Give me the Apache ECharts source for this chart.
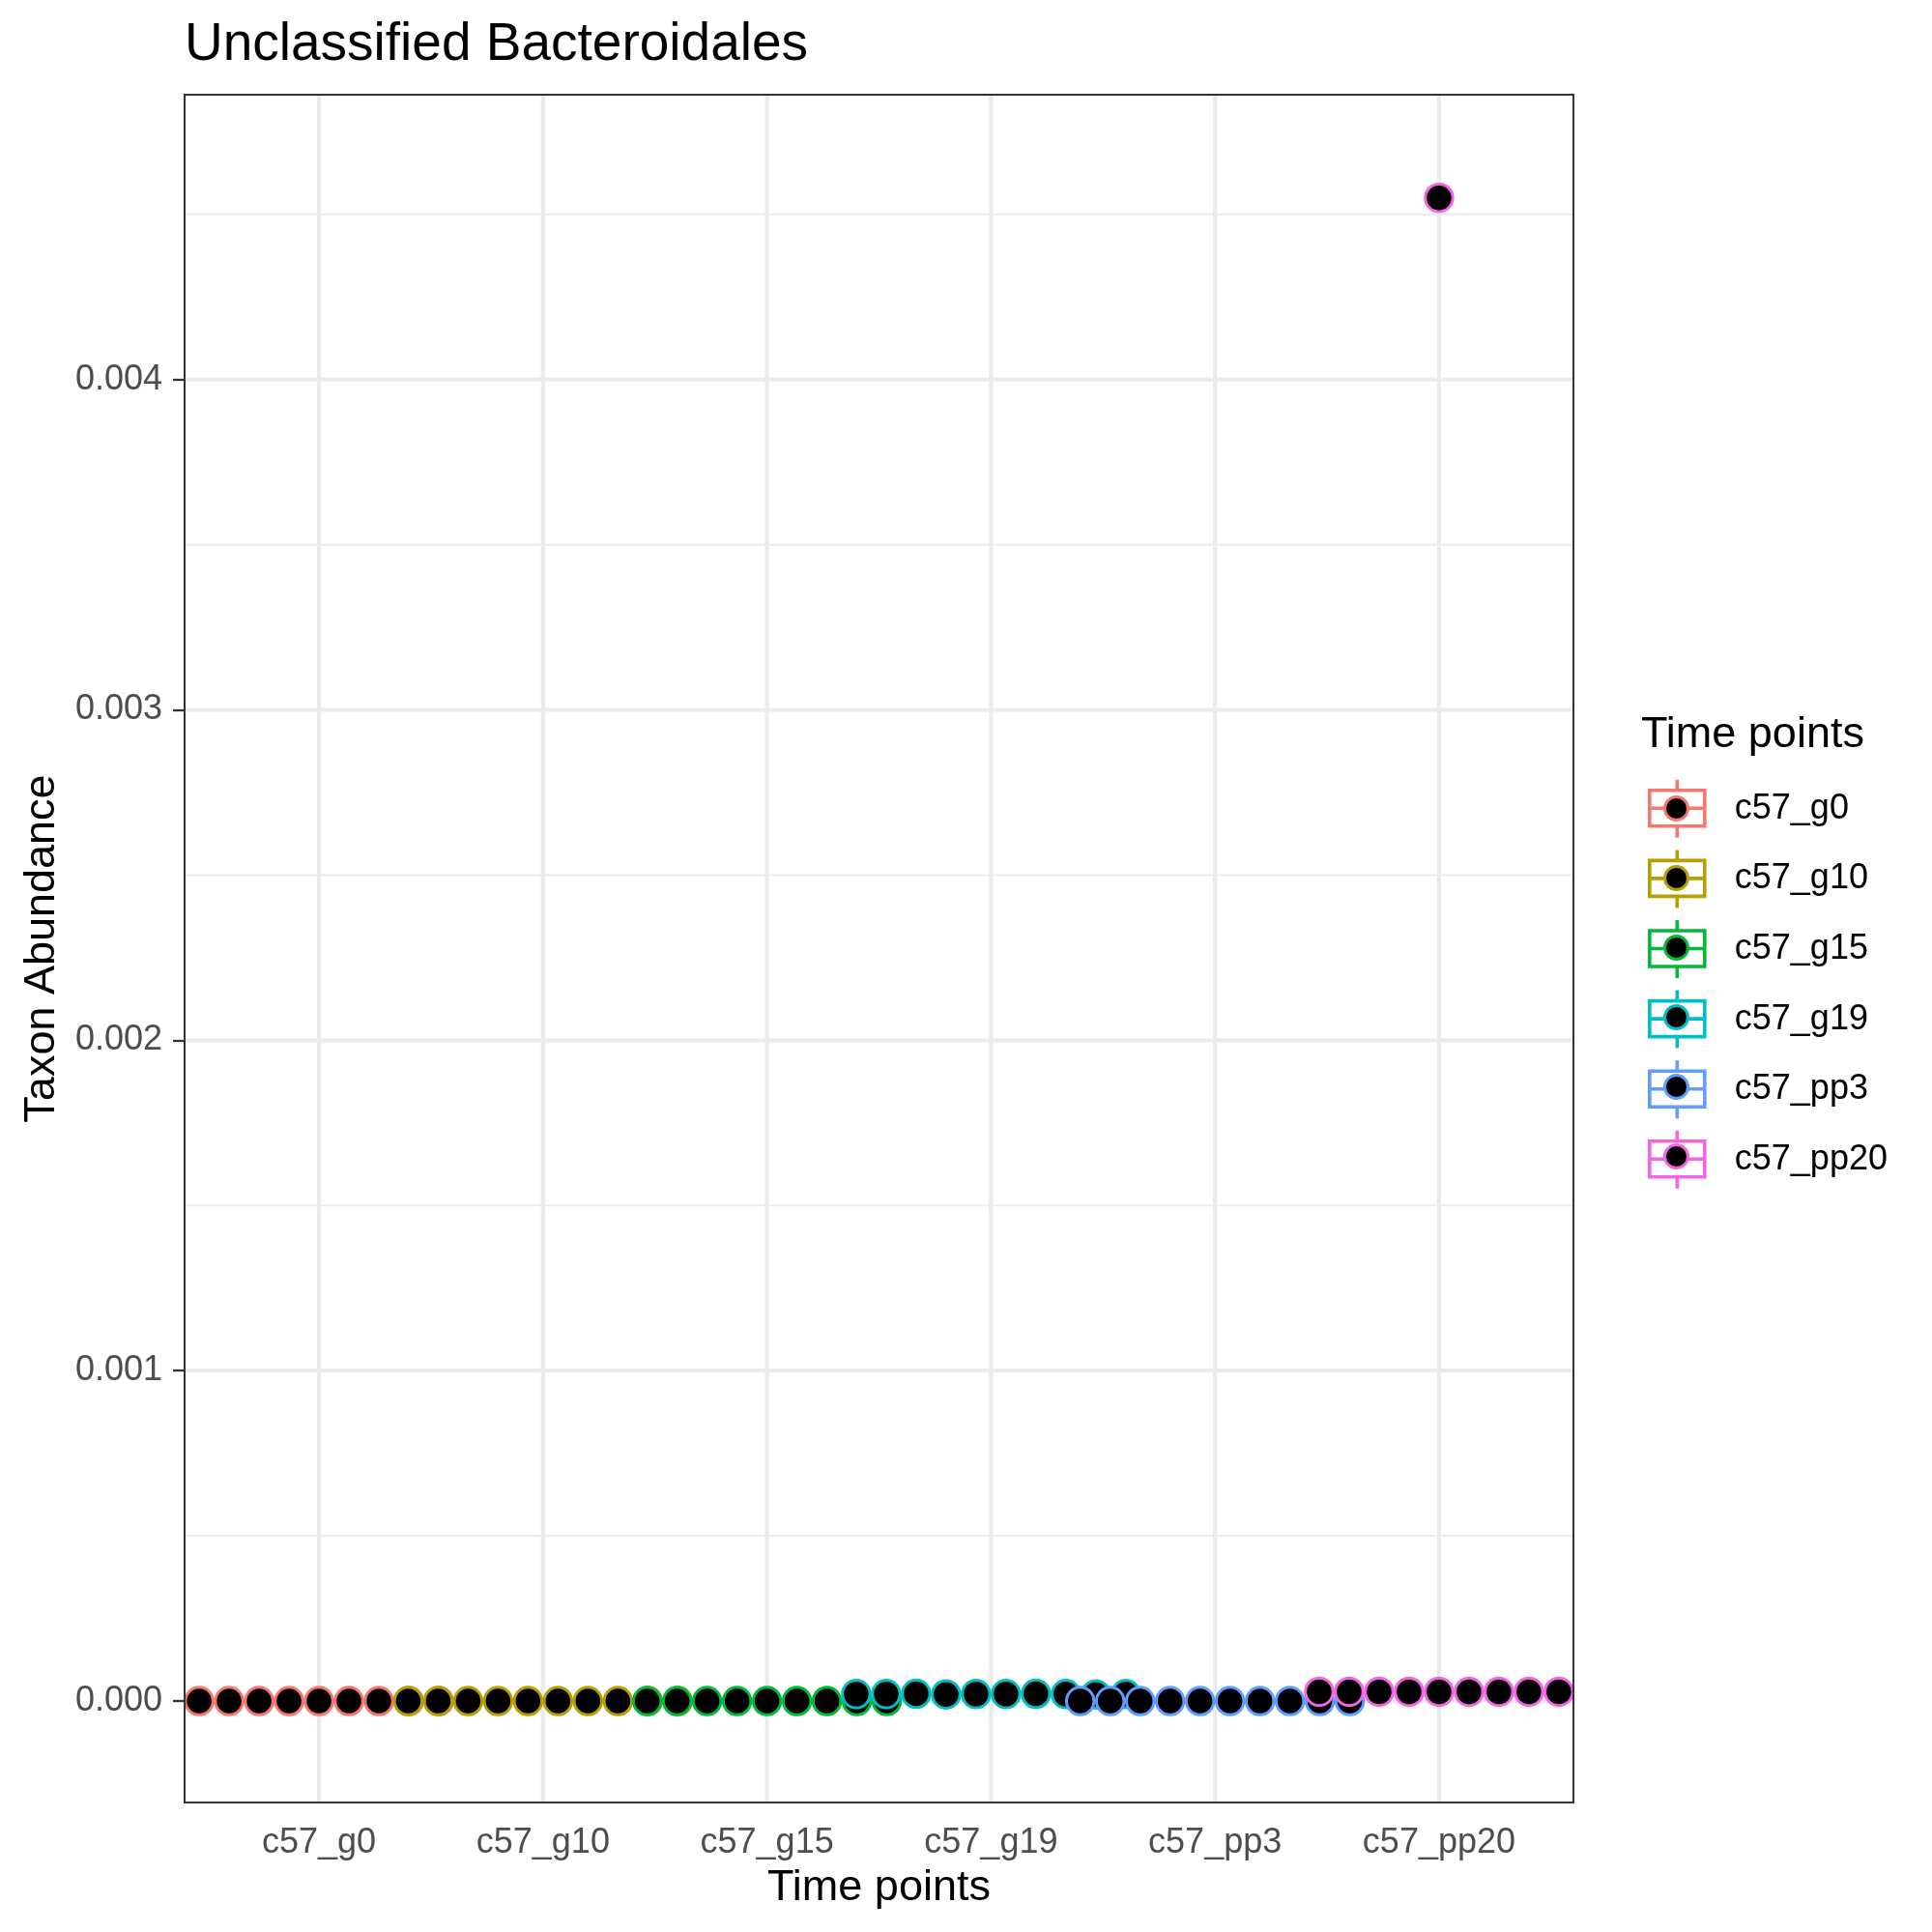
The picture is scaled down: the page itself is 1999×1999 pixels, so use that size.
<!DOCTYPE html>
<html>
<head>
<meta charset="utf-8">
<script src="https://cdn.jsdelivr.net/npm/echarts@6.0.0/dist/echarts.min.js"></script>
<style>
  html, body { margin: 0; padding: 0; background: #fff; }
  #chart { width: 1999px; height: 1999px; }
</style>
</head>
<body>
<div id="chart"></div>
<script>
// categories (x) and the abundance values of every sample, per time point
var categories = ['c57_g0', 'c57_g10', 'c57_g15', 'c57_g19', 'c57_pp3', 'c57_pp20'];
var g0   = [0, 0, 0, 0, 0, 0, 0, 0, 0];
var g10  = [0, 0, 0, 0, 0, 0, 0, 0, 0, 0];
var g15  = [0, 0, 0, 0, 0, 0, 0, 0, 0];
var g19  = [0.000021, 0.000021, 0.000022, 0.00002, 0.000021, 0.000021, 0.000022, 0.000021, 0.00002, 0.000021];
var pp3  = [0, 0, 0, 0, 0, 0, 0, 0, 0, 0];
var pp20 = [0.000028, 0.000028, 0.000028, 0.000028, 0.000028, 0.000028, 0.000028, 0.000028, 0.000028, 0.00455];
var yTicks = [0, 0.001, 0.002, 0.003, 0.004];
var yMinorTicks = [0.0005, 0.0015, 0.0025, 0.0035, 0.0045];

var groups = [g0, g10, g15, g19, pp3, pp20];
var colors = ['#F8766D', '#B79F00', '#00BA38', '#00BFC4', '#619CFF', '#F564E3'];

// axis limits (ggplot expansion)
var xMin = 0.4, xMax = 6.6;
var yMin = -0.000307, yMax = 0.004862;

// dotplot-like stacking: values falling in the same y bin are laid side by side
var binWidth = 0.0001;
var dotStep = 0.1337; // x-units between neighbouring dots

function stackGroup(values, pos){
  var bins = {};
  values.forEach(function(v){
    var key = Math.round(v / binWidth);
    (bins[key] = bins[key] || []).push(v);
  });
  var out = [];
  Object.keys(bins).forEach(function(k){
    var b = bins[k];
    b.forEach(function(v, i){
      out.push([pos + (i - (b.length - 1) / 2) * dotStep, v]);
    });
  });
  return out;
}

var font = '"Liberation Sans", Arial, Helvetica, sans-serif';
var xPos = categories.map(function(c, i){ return i + 1; });

// panel grid lines as plain line series, so they follow the axis scales
function gridLine(points, width){
  return {
    type: 'line', data: points, z: 1, silent: true,
    symbol: 'none', showSymbol: false,
    lineStyle: { color: '#EBEBEB', width: width },
    emphasis: { disabled: true }
  };
}

var series = [];
yMinorTicks.forEach(function(v){ series.push(gridLine([[xMin, v], [xMax, v]], 2.1)); });
yTicks.forEach(function(v){ series.push(gridLine([[xMin, v], [xMax, v]], 4.2)); });
xPos.forEach(function(v){ series.push(gridLine([[v, yMin], [v, yMax]], 4.2)); });

categories.forEach(function(name, i){
  series.push({
    name: name,
    type: 'scatter',
    z: 3,
    symbol: 'circle',
    symbolSize: 28.5,
    itemStyle: { color: '#000', borderColor: colors[i], borderWidth: 3, opacity: 1 },
    emphasis: { disabled: true },
    data: stackGroup(groups[i], i + 1)
  });
});

var boxIcon = 'path://M0,11 L57,11 L57,48 L0,48 Z M0,29.5 L57,29.5 M28.5,0 L28.5,11 M28.5,48 L28.5,60';

var option = {
  backgroundColor: '#fff',
  animation: false,
  title: [
    { text: 'Unclassified Bacteroidales', left: 191, top: 19, padding: 0,
      textStyle: { fontFamily: font, fontSize: 55, fontWeight: 'normal', color: '#000' } },
    { text: 'Time points', left: 1698, top: 738, padding: 0,
      textStyle: { fontFamily: font, fontSize: 45, fontWeight: 'normal', color: '#000' } }
  ],
  legend: [
    {
      orient: 'vertical', left: 1705, top: 805, padding: 0,
      itemWidth: 57, itemHeight: 60, itemGap: 9,
      selectedMode: false,
      textStyle: { fontFamily: font, fontSize: 36, color: '#000', padding: [0, 0, 0, 26] },
      data: categories.map(function(name, i){
        return { name: name, icon: boxIcon,
          itemStyle: { color: 'transparent', borderColor: colors[i], borderWidth: 3.6 } };
      })
    },
    {
      orient: 'vertical', left: 1721, top: 823, padding: 0,
      itemWidth: 24, itemHeight: 24, itemGap: 45,
      selectedMode: false,
      formatter: function(){ return ''; },
      textStyle: { fontSize: 8, color: 'transparent' },
      data: categories.map(function(name, i){
        return { name: name, icon: 'circle',
          itemStyle: { color: '#000', borderColor: colors[i], borderWidth: 3 } };
      })
    }
  ],
  grid: {
    left: 191, right: 371, top: 98, bottom: 134,
    show: true, z: 10, backgroundColor: 'transparent',
    borderColor: '#333333', borderWidth: 2
  },
  xAxis: {
    type: 'value', min: xMin, max: xMax,
    name: 'Time points', nameLocation: 'middle', nameGap: 66,
    nameTextStyle: { fontFamily: font, fontSize: 45, color: '#000' },
    axisLine: { show: false },
    splitLine: { show: false },
    axisTick: { show: true, customValues: xPos, length: 12, lineStyle: { color: '#333333', width: 2.3 } },
    axisLabel: {
      customValues: xPos, margin: 24,
      fontFamily: font, fontSize: 36, color: '#4D4D4D',
      formatter: function(v){ return categories[Math.round(v) - 1] || ''; }
    }
  },
  yAxis: {
    type: 'value', min: yMin, max: yMax,
    name: 'Taxon Abundance', nameLocation: 'middle', nameGap: 125,
    nameTextStyle: { fontFamily: font, fontSize: 45, color: '#000' },
    axisLine: { show: false },
    splitLine: { show: false },
    axisTick: { show: true, customValues: yTicks, length: 12, lineStyle: { color: '#333333', width: 2.3 } },
    axisLabel: {
      customValues: yTicks, margin: 23,
      fontFamily: font, fontSize: 36, color: '#4D4D4D',
      formatter: function(v){ return v.toFixed(3); }
    }
  },
  series: series
};

var chart = echarts.init(document.getElementById('chart'), null, { renderer: 'canvas' });
chart.setOption(option);
</script>
</body>
</html>
